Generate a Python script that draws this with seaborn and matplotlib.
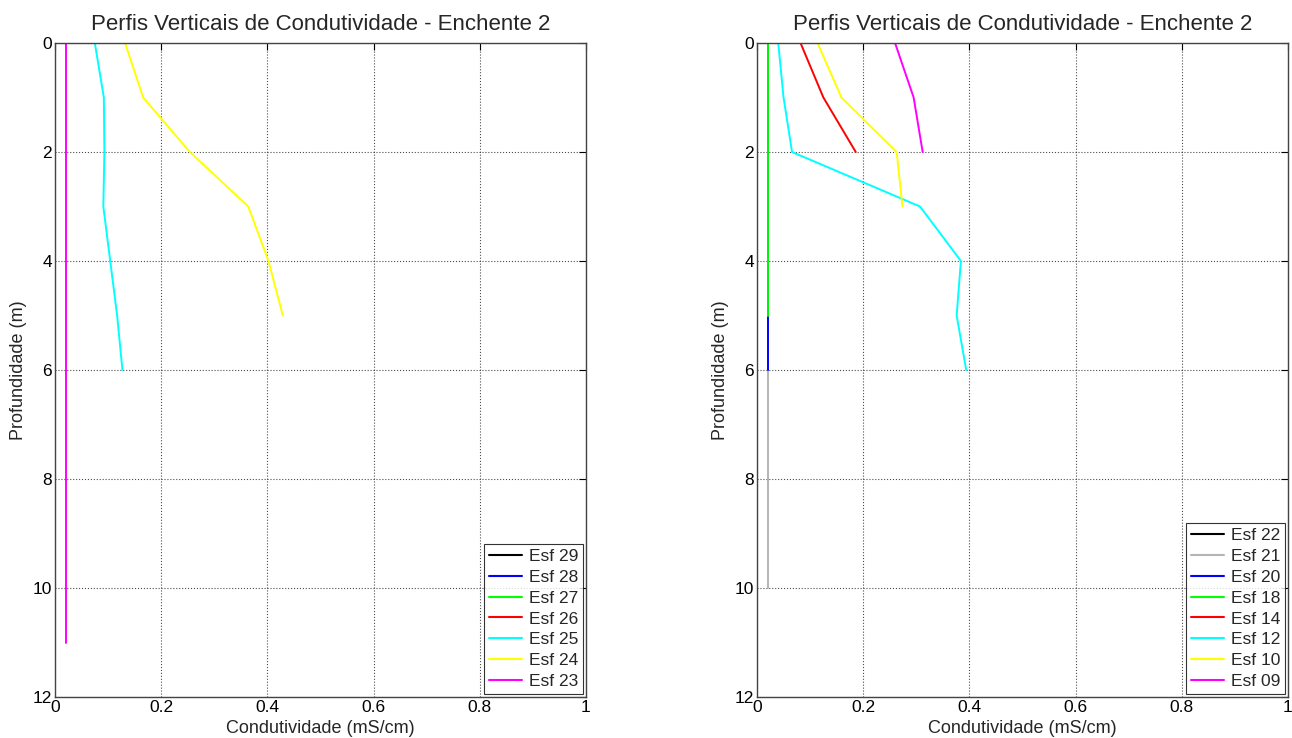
import numpy as np
import pandas as pd
import matplotlib
matplotlib.use("Agg")
import matplotlib.pyplot as plt
import seaborn as sns
from matplotlib.lines import Line2D

# Left panel: Esf 29 .. Esf 23
left_names = ["Esf 29", "Esf 28", "Esf 27", "Esf 26", "Esf 25", "Esf 24", "Esf 23"]
left_colors = ["black", "blue", "lime", "red", "cyan", "yellow", "magenta"]
left_depth = [
    [],
    [],
    [],
    [],
    [0, 1, 2, 3, 4, 5, 6],
    [0, 1, 2, 3, 4, 5],
    [0, 1, 2, 3, 4, 5, 6, 7, 8, 9, 10, 11],
]
left_cond = [
    [],
    [],
    [],
    [],
    [0.075, 0.092, 0.093, 0.091, 0.104, 0.117, 0.127],
    [0.132, 0.166, 0.254, 0.364, 0.402, 0.429],
    [0.02] * 12,
]

# Right panel: Esf 22 .. Esf 09
right_names = ["Esf 22", "Esf 21", "Esf 20", "Esf 18", "Esf 14", "Esf 12", "Esf 10", "Esf 09"]
right_colors = ["black", "#b4b4b4", "blue", "lime", "red", "cyan", "yellow", "magenta"]
right_depth = [
    [],
    [0, 1, 2, 3, 4, 5, 6, 7, 8, 9, 10],
    [0, 1, 2, 3, 4, 5, 6],
    [0, 1, 2, 3, 4, 5],
    [0, 1, 2],
    [0, 1, 2, 3, 4, 5, 6],
    [0, 1, 2, 3],
    [0, 1, 2],
]
right_cond = [
    [],
    [0.02] * 11,
    [0.02] * 7,
    [0.02] * 6,
    [0.082, 0.125, 0.186],
    [0.040, 0.050, 0.066, 0.307, 0.384, 0.376, 0.394],
    [0.114, 0.159, 0.263, 0.274],
    [0.260, 0.295, 0.312],
]

title = "Perfis Verticais de Condutividade - Enchente 2"

sns.set_style("white")
plt.rcParams["font.family"] = ["Liberation Sans", "DejaVu Sans"]

fig = plt.figure(figsize=(12.92, 7.38), dpi=100)
ax1 = fig.add_axes([55 / 1292, 1 - 697 / 738, 531 / 1292, 654 / 738])
ax2 = fig.add_axes([757 / 1292, 1 - 697 / 738, 531 / 1292, 654 / 738])


def draw_panel(ax, names, colors, depths, conds):
    handles = []
    for name, col, d, c in zip(names, colors, depths, conds):
        if len(d) > 0:
            df = pd.DataFrame({"cond": c, "depth": d})
            sns.lineplot(data=df, x="cond", y="depth", ax=ax, color=col,
                         sort=False, estimator=None, orient="y", lw=1.4)
        handles.append(Line2D([], [], color=col, lw=1.5, label=name))
    ax.set_xlim(0, 1)
    ax.set_ylim(12, 0)
    ax.set_xticks(np.arange(0, 1.01, 0.2))
    ax.set_xticklabels(["0", "0.2", "0.4", "0.6", "0.8", "1"])
    ax.set_yticks(np.arange(0, 13, 2))
    ax.grid(True, color="black", linestyle=":", linewidth=0.8, alpha=0.7)
    ax.tick_params(direction="in", top=True, right=True, length=5,
                   labelsize=12.5, colors="black", pad=2)
    for s in ax.spines.values():
        s.set_color("#444444")
        s.set_linewidth(1.0)
    ax.set_xlabel("Condutividade (mS/cm)", fontsize=13, labelpad=4)
    ax.set_ylabel("Profundidade (m)", fontsize=13, labelpad=4)
    ax.set_title(title, fontsize=16, pad=9)
    leg = ax.legend(handles=handles, loc="lower right", fontsize=12.5,
                    frameon=True, fancybox=False, edgecolor="black",
                    borderaxespad=0.15, handlelength=1.9, labelspacing=0.33,
                    handletextpad=0.4, borderpad=0.3)
    leg.get_frame().set_linewidth(0.8)


draw_panel(ax1, left_names, left_colors, left_depth, left_cond)
draw_panel(ax2, right_names, right_colors, right_depth, right_cond)

fig.savefig("out.png", dpi=100)
